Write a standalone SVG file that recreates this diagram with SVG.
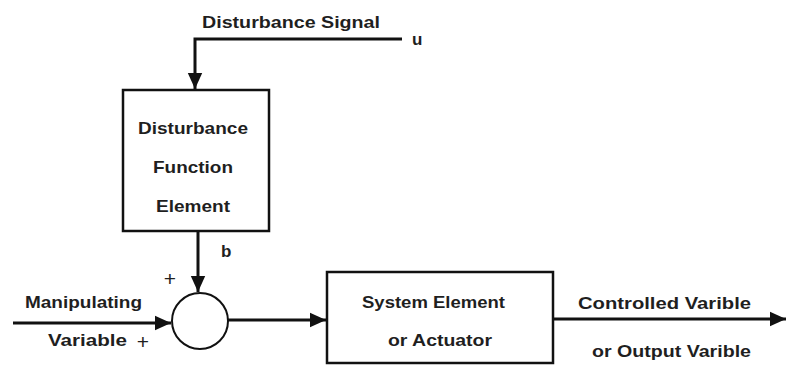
<svg xmlns="http://www.w3.org/2000/svg" width="787" height="365" viewBox="0 0 787 365">
  <style>
    .lbl { font-family: "Liberation Sans", Arial, sans-serif; font-size: 17px; font-weight: bold; fill: #1f1f1f; }
    .sign { font-family: "Liberation Sans", Arial, sans-serif; font-size: 21px; fill: #1f1f1f; }
    .box { fill: none; stroke: #111; stroke-width: 2.5; }
    .wire { fill: none; stroke: #111; stroke-width: 3; }
  </style>
  <defs>
    <marker id="arrowL" viewBox="0 0 10 10" refX="10" refY="5" markerWidth="16" markerHeight="16" markerUnits="userSpaceOnUse" orient="auto">
      <path d="M0,0.5 L10,5 L0,9.5 z" fill="#111"/>
    </marker>
  </defs>
  <rect width="787" height="365" fill="#fff"/>

  <!-- connectors -->
  <g id="connectors">
    <path class="wire" d="M402,39 H195 V89" marker-end="url(#arrowL)"/>
    <path class="wire" d="M198,231 V292" marker-end="url(#arrowL)"/>
    <path class="wire" d="M13,323 H171" marker-end="url(#arrowL)"/>
    <path class="wire" d="M228,320 H326" marker-end="url(#arrowL)"/>
    <path class="wire" d="M553,319 H786" marker-end="url(#arrowL)"/>
  </g>

  <!-- disturbance input -->
  <g id="disturbance-signal">
    <text class="lbl" x="202" y="28" textLength="178" lengthAdjust="spacingAndGlyphs">Disturbance Signal</text>
    <text class="lbl" x="412" y="45">u</text>
  </g>

  <!-- disturbance function block -->
  <g id="disturbance-function">
    <rect class="box" x="123" y="90" width="146" height="141"/>
    <text class="lbl" x="193" y="134" text-anchor="middle" textLength="110" lengthAdjust="spacingAndGlyphs">Disturbance</text>
    <text class="lbl" x="193" y="173" text-anchor="middle" textLength="80" lengthAdjust="spacingAndGlyphs">Function</text>
    <text class="lbl" x="193" y="212" text-anchor="middle" textLength="74" lengthAdjust="spacingAndGlyphs">Element</text>
    <text class="lbl" x="221" y="257">b</text>
  </g>

  <!-- summing junction -->
  <g id="summing-junction">
    <circle cx="200" cy="321" r="28" fill="none" stroke="#111" stroke-width="2"/>
    <text class="sign" x="170" y="286" text-anchor="middle">+</text>
    <text class="sign" x="143" y="349" text-anchor="middle">+</text>
  </g>

  <!-- manipulating variable input -->
  <g id="manipulating-variable">
    <text class="lbl" x="25" y="308" textLength="117" lengthAdjust="spacingAndGlyphs">Manipulating</text>
    <text class="lbl" x="48" y="346" textLength="79" lengthAdjust="spacingAndGlyphs">Variable</text>
  </g>

  <!-- system element block -->
  <g id="system-element">
    <rect class="box" x="327" y="272" width="226" height="91"/>
    <text class="lbl" x="362" y="308" textLength="143" lengthAdjust="spacingAndGlyphs">System Element</text>
    <text class="lbl" x="388" y="346" textLength="104" lengthAdjust="spacingAndGlyphs">or Actuator</text>
  </g>

  <!-- controlled variable output -->
  <g id="controlled-variable">
    <text class="lbl" x="578" y="309" textLength="173" lengthAdjust="spacingAndGlyphs">Controlled Varible</text>
    <text class="lbl" x="592" y="357" textLength="159" lengthAdjust="spacingAndGlyphs">or Output Varible</text>
  </g>
</svg>
